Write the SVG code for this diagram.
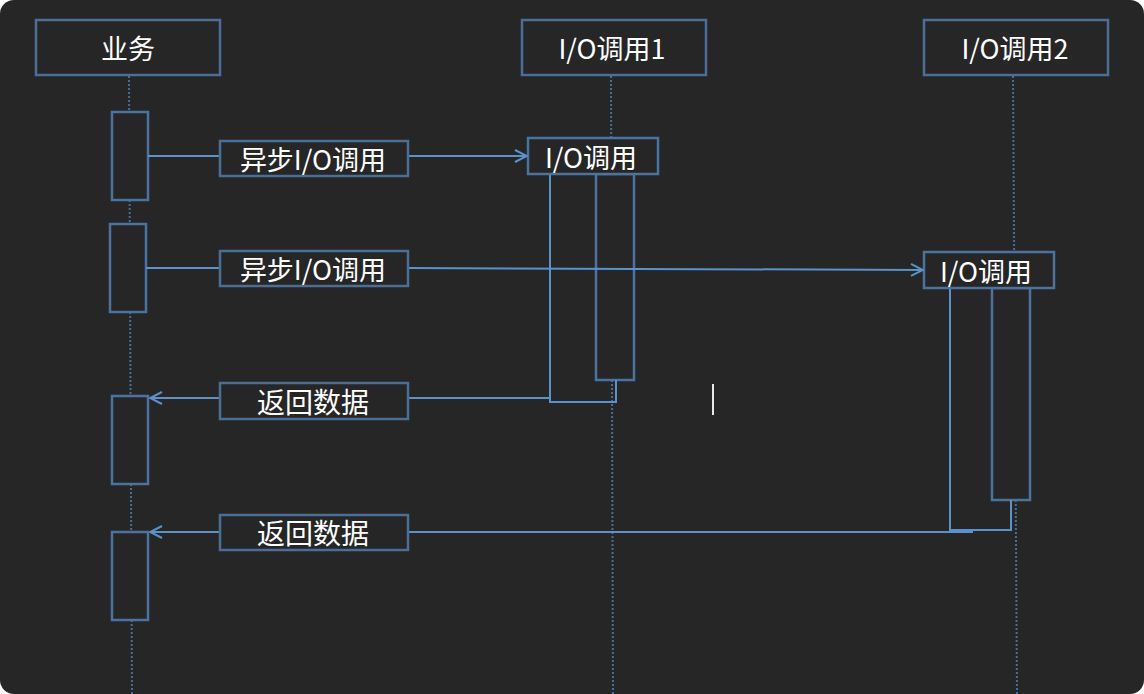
<svg xmlns="http://www.w3.org/2000/svg" width="1144" height="694" viewBox="0 0 1144 694">
<defs>
<style>
.hdr{fill:#262626;stroke:#4a6e96;stroke-width:2.5}
.act{fill:#262626;stroke:#4a73a0;stroke-width:2.5}
.lbl{fill:#262626;stroke:#4a6e96;stroke-width:2.5}
.life{stroke:#4a6e96;stroke-width:2;stroke-dasharray:2 2;fill:none}
.msg{stroke:#5b92cc;stroke-width:2;fill:none}
.t{fill:#ffffff;font-family:"Noto Sans CJK SC","Liberation Sans",sans-serif;font-size:27px;text-anchor:middle;dominant-baseline:central}
</style>
<marker id="ah" viewBox="0 0 14 14" refX="13" refY="7" markerWidth="14" markerHeight="14" markerUnits="userSpaceOnUse" orient="auto">
<path d="M1,1 L13,7 L1,13" fill="none" stroke="#5b92cc" stroke-width="2"/>
</marker>
</defs>
<rect x="0" y="0" width="1144" height="694" fill="#ffffff"/>
<rect x="0" y="0" width="1144" height="694" rx="14" fill="#262626"/>

<g id="lifelines">
<line class="life" x1="129" y1="76" x2="132" y2="694"/>
<line class="life" x1="611" y1="76" x2="613" y2="694"/>
<line class="life" x1="1013" y1="76" x2="1017" y2="694"/>
</g>

<g id="node-biz"><rect class="hdr" x="36" y="20" width="184" height="55"/><text class="t" x="128" y="47">业务</text></g>
<g id="node-io1"><rect class="hdr" x="522" y="20" width="184" height="55"/><text class="t" x="612" y="47">I/O调用1</text></g>
<g id="node-io2"><rect class="hdr" x="924" y="20" width="184" height="55"/><text class="t" x="1015" y="47">I/O调用2</text></g>

<g id="biz-act1"><rect class="act" x="112" y="112" width="36" height="88"/></g>
<g id="biz-act2"><rect class="act" x="110" y="224" width="36" height="88"/></g>
<g id="biz-act3"><rect class="act" x="112" y="396" width="36" height="88"/></g>
<g id="biz-act4"><rect class="act" x="112" y="532" width="36" height="88"/></g>

<g id="io1-act">
<rect class="act" x="596" y="174" width="38" height="206"/>
<path class="msg" d="M550,174 V402 H616 V380"/>
<rect class="act" x="528" y="138" width="130" height="36"/>
<text class="t" x="591" y="156">I/O调用</text>
</g>
<g id="io2-act">
<rect class="act" x="992" y="288" width="38" height="212"/>
<path class="msg" d="M950,288 V530 H1011 V500"/>
<rect class="act" x="924" y="252" width="130" height="36"/>
<text class="t" x="986" y="270">I/O调用</text>
</g>

<g id="connectors">
<line class="msg" x1="148" y1="156" x2="220" y2="156"/>
<line class="msg" x1="408" y1="156" x2="527" y2="156" marker-end="url(#ah)"/>
<line class="msg" x1="146" y1="268" x2="220" y2="268"/>
<line class="msg" x1="408" y1="268" x2="923" y2="270" marker-end="url(#ah)"/>
<line class="msg" x1="550" y1="398" x2="408" y2="398"/>
<line class="msg" x1="220" y1="398" x2="150" y2="398" marker-end="url(#ah)"/>
<line class="msg" x1="973" y1="532" x2="408" y2="532"/>
<line class="msg" x1="220" y1="532" x2="150" y2="532" marker-end="url(#ah)"/>
</g>

<g id="label-call1"><rect class="lbl" x="220" y="141" width="188" height="35"/><text class="t" x="313" y="158">异步I/O调用</text></g>
<g id="label-call2"><rect class="lbl" x="220" y="251" width="188" height="35"/><text class="t" x="313" y="268">异步I/O调用</text></g>
<g id="label-ret1"><rect class="lbl" x="220" y="383" width="188" height="36"/><text class="t" x="313" y="401" style="font-size:28px">返回数据</text></g>
<g id="label-ret2"><rect class="lbl" x="220" y="515" width="188" height="35"/><text class="t" x="313" y="532" style="font-size:28px">返回数据</text></g>

<line x1="713" y1="384" x2="713" y2="415" stroke="#e8e8e8" stroke-width="2"/>
</svg>
